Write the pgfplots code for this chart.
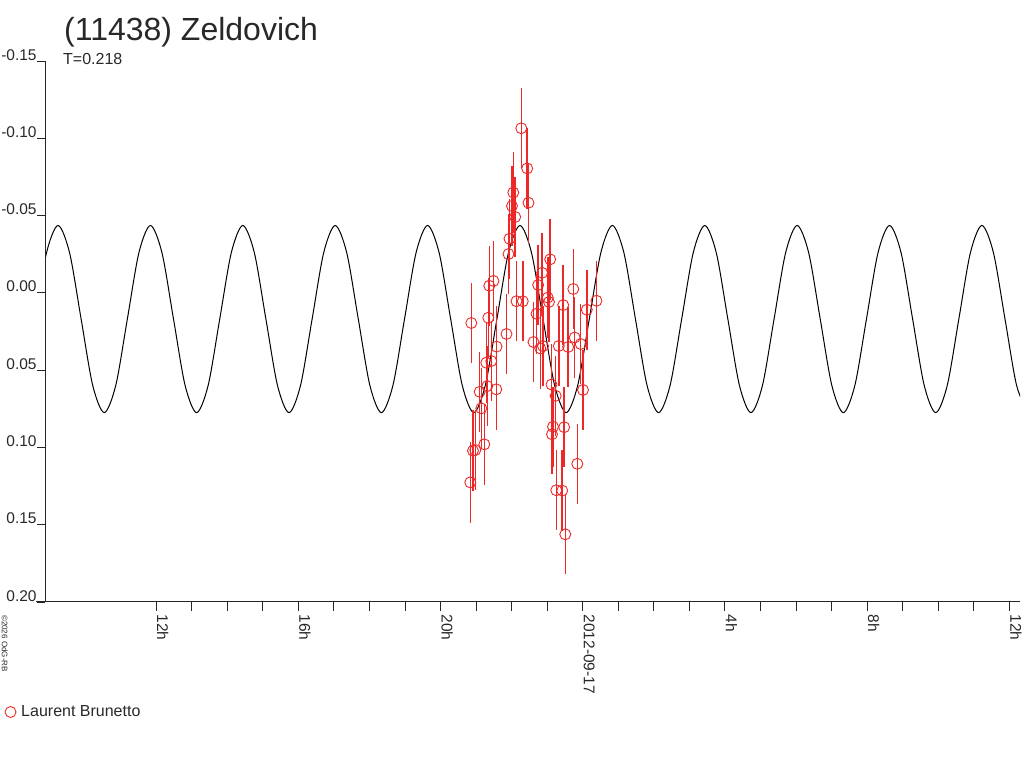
\documentclass[border=0pt]{standalone}
\usepackage{fontspec}
\setmainfont{Liberation Sans}
\usepackage{pgfplots}
\pgfplotsset{compat=1.18}
\usepackage{pgfplotstable}
\definecolor{ptred}{RGB}{236,40,40}
\definecolor{txt}{RGB}{40,40,40}

\pgfplotstableread{
x y ey
-3.165 0.1226 0.026
-3.136 0.0195 0.026
-3.089 0.1021 0.026
-3.024 0.1017 0.026
-2.900 0.0640 0.026
-2.855 0.0747 0.026
-2.771 0.0980 0.026
-2.714 0.0452 0.026
-2.686 0.0603 0.026
-2.658 0.0161 0.026
-2.630 -0.0046 0.026
-2.574 0.0441 0.026
-2.512 -0.0077 0.026
-2.433 0.0624 0.026
-2.425 0.0348 0.026
-2.146 0.0266 0.026
-2.090 -0.0251 0.026
-2.062 -0.0350 0.026
-1.992 -0.0562 0.026
-1.955 -0.0649 0.026
-1.902 -0.0491 0.026
-1.865 0.0054 0.026
-1.730 -0.1065 0.026
-1.688 0.0054 0.026
-1.564 -0.0805 0.026
-1.527 -0.0583 0.026
-1.387 0.0318 0.026
-1.302 0.0135 0.026
-1.255 -0.0051 0.026
-1.196 0.0359 0.026
-1.142 -0.0130 0.026
-1.120 0.0344 0.026
-0.985 0.0031 0.026
-0.951 0.0059 0.026
-0.917 -0.0217 0.026
-0.880 0.0593 0.026
-0.866 0.0915 0.026
-0.838 0.0866 0.026
-0.762 0.0666 0.026
-0.745 0.1277 0.026
-0.675 0.0344 0.026
-0.579 0.1279 0.026
-0.551 0.0079 0.026
-0.523 0.0869 0.026
-0.492 0.1562 0.026
-0.411 0.0350 0.026
-0.267 -0.0025 0.026
-0.228 0.0289 0.026
-0.155 0.1106 0.026
-0.059 0.0331 0.026
0.006 0.0628 0.026
0.113 0.0109 0.026
0.385 0.0051 0.026
}\obs

\pgfplotstableread{
x y
-15.4113 0.0170
-15.0864 -0.0259
-14.7615 -0.0436
-14.4366 -0.0259
-14.1118 0.0170
-13.7869 0.0598
-13.4620 0.0775
-13.1371 0.0598
-12.8123 0.0170
-12.4874 -0.0259
-12.1625 -0.0436
-11.8376 -0.0259
-11.5128 0.0170
-11.1879 0.0598
-10.8630 0.0775
-10.5381 0.0598
-10.2133 0.0170
-9.8884 -0.0259
-9.5635 -0.0436
-9.2386 -0.0259
-8.9138 0.0170
-8.5889 0.0598
-8.2640 0.0775
-7.9391 0.0598
-7.6143 0.0170
-7.2894 -0.0259
-6.9645 -0.0436
-6.6396 -0.0259
-6.3148 0.0170
-5.9899 0.0598
-5.6650 0.0775
-5.3401 0.0598
-5.0153 0.0170
-4.6904 -0.0259
-4.3655 -0.0436
-4.0406 -0.0259
-3.7158 0.0170
-3.3909 0.0598
-3.0660 0.0775
-2.7411 0.0598
-2.4163 0.0170
-2.0914 -0.0259
-1.7665 -0.0436
-1.4416 -0.0259
-1.1168 0.0170
-0.7919 0.0598
-0.4670 0.0775
-0.1421 0.0598
0.1828 0.0170
0.5076 -0.0259
0.8325 -0.0436
1.1574 -0.0259
1.4823 0.0170
1.8071 0.0598
2.1320 0.0775
2.4569 0.0598
2.7818 0.0170
3.1066 -0.0259
3.4315 -0.0436
3.7564 -0.0259
4.0813 0.0170
4.4061 0.0598
4.7310 0.0775
5.0559 0.0598
5.3808 0.0170
5.7056 -0.0259
6.0305 -0.0436
6.3554 -0.0259
6.6803 0.0170
7.0051 0.0598
7.3300 0.0775
7.6549 0.0598
7.9798 0.0170
8.3046 -0.0259
8.6295 -0.0436
8.9544 -0.0259
9.2793 0.0170
9.6041 0.0598
9.9290 0.0775
10.2539 0.0598
10.5788 0.0170
10.9036 -0.0259
11.2285 -0.0436
11.5534 -0.0259
11.8783 0.0170
12.2031 0.0598
12.5280 0.0775
}\model

\begin{document}
\begin{tikzpicture}[x=1pt,y=1pt]
\path[use as bounding box] (0,0) rectangle (1024,768);
\begin{axis}[
  at={(45.3pt,166pt)}, anchor=south west,
  scale only axis, width=974.7pt, height=541pt,
  xmin=-15.12, xmax=12.30, ymin=-0.15, ymax=0.20,
  y dir=reverse,
  axis line style={draw=none},
  xtick={-12,-8,-4,0,4,8,12},
  xticklabels={12h,16h,20h,2012-09-17,4h,8h,12h},
  minor x tick num=3,
  ytick={-0.15,-0.10,-0.05,0,0.05,0.10,0.15,0.20},
  yticklabels={-0.15,-0.10,-0.05,0.00,0.05,0.10,0.15,0.20},
  tick align=outside,
  major tick length=8.5pt, minor tick length=8.5pt,
  xtick pos=bottom, ytick pos=left,
  tick style={black!85, line width=1pt},
  every tick label/.append style={text=txt, font=\fontsize{15.5}{18}\selectfont},
  xticklabel style={inner sep=0pt, yshift=-4pt, xshift=1pt, rotate=-90, anchor=base west},
  yticklabel style={inner sep=0pt, anchor=base east, yshift=1pt},
  legend style={at={(axis description cs:-0.0413,-0.2033)}, anchor=west,
    draw=none, fill=none, inner sep=0pt, outer sep=0pt,
    nodes={inner sep=0pt, text=txt, font=\fontsize{16}{18}\selectfont}},
  legend image code/.code={\draw[ptred, line width=0.9pt, mark=o, mark size=5.5pt] plot coordinates {(5.5pt,0pt)}; \path (16pt,0pt);},
]
\addplot[black, line width=1pt, smooth, forget plot] table {\model};
\addplot[ptred, only marks, mark=o, mark size=5.5pt, mark options={line width=0.9pt},
  error bars/.cd, y dir=both, y explicit, error mark=none,
  error bar style={line width=1.5pt, ptred}]
  table[x=x, y=y, y error=ey] {\obs};
\addlegendentry{Laurent Brunetto}
\end{axis}
\draw[black!85, line width=1pt] (36,166) -- (1020,166);
\draw[black!85, line width=1pt] (45.3,166) -- (45.3,707);
\node[anchor=base west, inner sep=0pt, text=txt, font=\fontsize{32}{36}\selectfont] at (64,727) {(11438) Zeldovich};
\node[anchor=base west, inner sep=0pt, text=txt, font=\fontsize{16}{18}\selectfont] at (63,703) {T=0.218};
\node[anchor=base west, inner sep=0pt, rotate=-90, text=txt, font=\fontsize{8}{9}\selectfont] at (2,153) {©2026 OdG-RB};
\end{tikzpicture}
\end{document}
